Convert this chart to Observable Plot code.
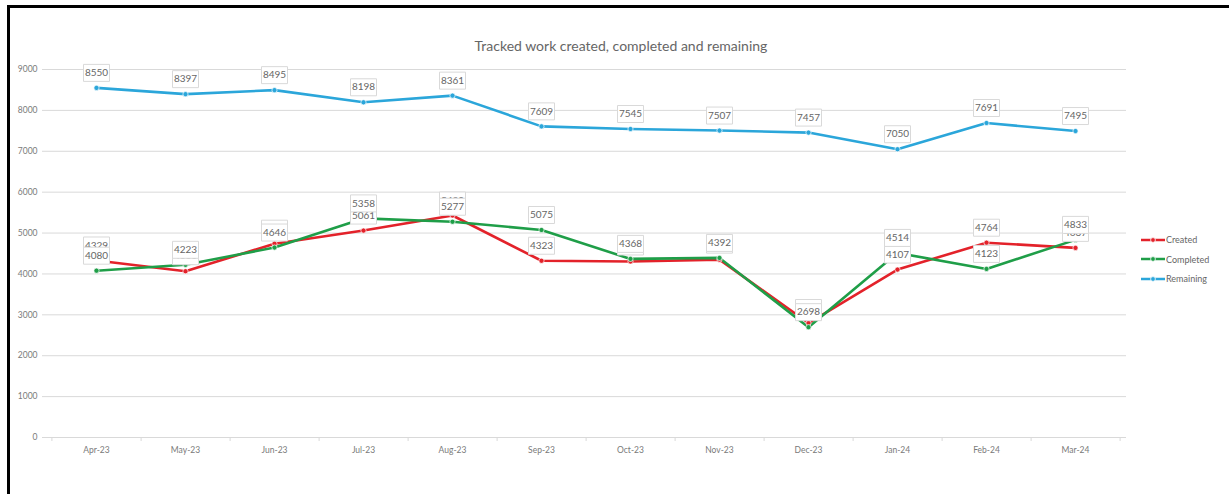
<!DOCTYPE html>
<html><head><meta charset="utf-8">
<script src="https://cdn.jsdelivr.net/npm/d3@7"></script>
<script src="https://cdn.jsdelivr.net/npm/@observablehq/plot@0.6"></script>
<style>
body{margin:0;background:#fff;}
#wrap{position:relative;width:1229px;height:494px;overflow:hidden;font-family:Lato,"Open Sans",sans-serif;background:#fff;}
#frameL{position:absolute;left:7px;top:5px;width:3px;height:489px;background:#000;}
#frameT{position:absolute;left:7px;top:5px;width:1222px;height:3px;background:#000;}
#title{position:absolute;top:37px;left:621px;transform:translateX(-50%);white-space:nowrap;font-size:14px;color:#666;}
#chart{position:absolute;left:0;top:0;}
#legend{position:absolute;left:1141px;top:230px;font-size:9px;color:#666;}
.li{display:flex;align-items:center;height:19.5px;}
.li svg{margin-right:1px;}
</style></head>
<body>
<div id="wrap">
  <div id="chart"></div>
  <div id="frameL"></div><div id="frameT"></div>
  <div id="title">Tracked work created, completed and remaining</div>
  <div id="legend"></div>
</div>
<script>
const months = ["Apr-23","May-23","Jun-23","Jul-23","Aug-23","Sep-23","Oct-23","Nov-23","Dec-23","Jan-24","Feb-24","Mar-24"];
const created   = [4329,4066,4740,5061,5430,4323,4305,4350,2800,4107,4764,4637];
const completed = [4080,4223,4646,5358,5277,5075,4368,4392,2698,4514,4123,4833];
const remaining = [8550,8397,8495,8198,8361,7609,7545,7507,7457,7050,7691,7495];
const yTicks = [0,1000,2000,3000,4000,5000,6000,7000,8000,9000];
const seriesNames = ["Created","Completed","Remaining"];
const seriesColors = ["#e3222a","#1f9e48","#2ba6da"];

const seriesValues = [created, completed, remaining];
const rows = [];
seriesNames.forEach((s, si) => months.forEach((m, i) => rows.push({series: s, month: m, value: seriesValues[si][i]})));

const boxSymbol = {draw(ctx){ ctx.moveTo(-13,-8.5); ctx.lineTo(13,-8.5); ctx.lineTo(13,8.5); ctx.lineTo(-13,8.5); ctx.closePath(); }};

const marks = [
  Plot.ruleY(yTicks, {stroke: "#d9d9d9", strokeWidth: 1, insetLeft: -8, insetRight: -5}),
  Plot.ruleX(months, {x: d => d, y1: 0, y2: 0, insetBottom: -4, dx: 44.6, stroke: "#d9d9d9"}),
  Plot.ruleX([months[0]], {x: d => d, y1: 0, y2: 0, insetBottom: -4, dx: -44.6, stroke: "#d9d9d9"}),
];
seriesNames.forEach((s, si) => {
  const d = rows.filter(r => r.series === s);
  marks.push(Plot.line(d, {x: "month", y: "value", stroke: seriesColors[si], strokeWidth: 2.6}));
});
seriesNames.forEach((s, si) => {
  const d = rows.filter(r => r.series === s);
  marks.push(Plot.dot(d, {x: "month", y: "value", r: 2.6, fill: seriesColors[si], stroke: "white", strokeWidth: 0.7}));
});
seriesNames.forEach((s, si) => {
  const d = rows.filter(r => r.series === s);
  marks.push(Plot.dot(d, {x: "month", y: "value", symbol: boxSymbol, r: 1, fill: "white", stroke: "#d9d9d9", strokeWidth: 1, dy: -15}));
  marks.push(Plot.text(d, {x: "month", y: "value", text: d => String(d.value), dy: -15, fill: "#666", fontSize: 10, lineAnchor: "middle"}));
});

const chart = Plot.plot({
  width: 1229, height: 494,
  marginLeft: 50, marginRight: 108, marginTop: 69, marginBottom: 57,
  style: {fontFamily: "Lato, 'Open Sans', sans-serif", background: "transparent"},
  x: {type: "point", domain: months, padding: 0.5, label: null, tickSize: 0, tickPadding: 8},
  y: {domain: [0, 9000], ticks: yTicks, label: null, tickSize: 0, tickPadding: 13},
  marks: [
    Plot.axisX({tickSize: 0, tickPadding: 9, fill: "#7a7a7a", fontSize: 8.5, label: null}),
    Plot.axisY(yTicks, {tickSize: 0, tickPadding: 13, fill: "#7a7a7a", fontSize: 8.5, label: null, tickFormat: d => String(d)}),
    ...marks
  ]
});
document.getElementById("chart").appendChild(chart);

const legend = document.getElementById("legend");
seriesNames.forEach((s, si) => {
  const div = document.createElement("div");
  div.className = "li";
  div.innerHTML = `<svg width="24" height="8"><line x1="0" y1="4" x2="24" y2="4" stroke="${seriesColors[si]}" stroke-width="2.5"/><circle cx="12" cy="4" r="2.4" fill="${seriesColors[si]}" stroke="white" stroke-width="0.8"/></svg><span>${s}</span>`;
  legend.appendChild(div);
});
</script>
</body></html>
